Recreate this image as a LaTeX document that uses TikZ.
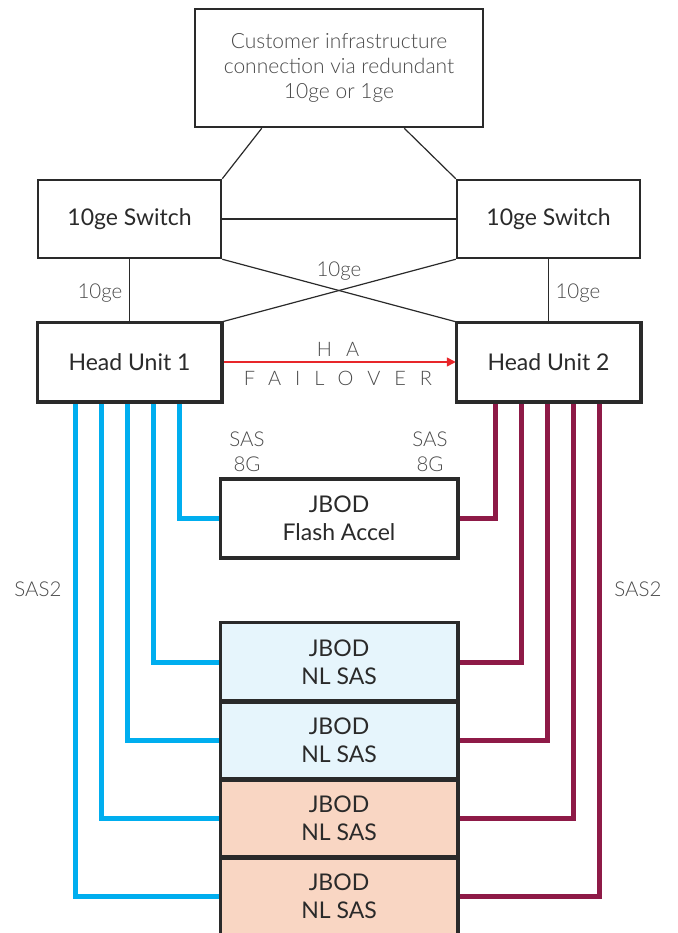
\documentclass[tikz,border=0pt]{standalone}
\usepackage{fontspec}
\setmainfont{Lato}
\newfontfamily\lightfont{Lato Light}
\usetikzlibrary{arrows.meta,calc}
\definecolor{sasblue}{HTML}{00AEEF}
\definecolor{sasred}{HTML}{8E1A47}
\definecolor{harrow}{HTML}{E8262A}
\definecolor{fillblue}{HTML}{E6F5FC}
\definecolor{fillpeach}{HTML}{F9D6C3}
\definecolor{boxline}{HTML}{2A2A2A}
\definecolor{labelgray}{HTML}{4A4A4A}
\begin{document}
\begin{tikzpicture}[x=1pt,y=-1pt,
  box/.style={draw=boxline,line width=2.5pt,rectangle,inner sep=0pt,align=center,fill=white,
    minimum width=183pt,minimum height=78pt,font=\fontsize{23}{28}\selectfont,text=boxline},
  jbox/.style={box,minimum width=236pt,minimum height=78pt},
  thin/.style={draw=boxline,line width=1.2pt},
  lbl/.style={font=\lightfont\fontsize{20.5}{25}\selectfont,text=labelgray,align=center,inner sep=0pt},
  spaced/.style={lbl,font=\lightfont\fontsize{20}{25}\selectfont\addfontfeature{LetterSpace=70}},
  bluecab/.style={draw=sasblue,line width=5pt},
  redcab/.style={draw=sasred,line width=5pt}]
\useasboundingbox (0,0) rectangle (677,933);
% boxes
\node[box,minimum width=288pt,minimum height=118pt,font=\lightfont\fontsize{21}{25}\selectfont,text=labelgray] (cust) at (339,68)
  {Customer infrastructure\\connection via redundant\\10ge or 1ge};
\node[box] (swL) at (129.5,219) {10ge Switch};
\node[box] (swR) at (548.5,219) {10ge Switch};
\node[box] (hu1) at (129.5,362) {Head Unit 1};
\node[box] (hu2) at (548.5,362) {Head Unit 2};
% thin links
\draw[thin] ([xshift=68pt]cust.south west) -- (swL.north east);
\draw[thin] ([xshift=-80pt]cust.south east) -- (swR.north west);
\draw[thin] (swL) -- (swR);
\draw[thin] (swL) -- (hu1);
\draw[thin] (swR) -- (hu2);
\draw[thin] (swL.south east) -- (hu2.north west);
\draw[thin] (swR.south west) -- (hu1.north east);
\node[lbl] (l10a) at (100,293) {10ge};
\node[lbl] (l10b) at (578,293) {10ge};
\node[lbl] (l10c) at (339,271) {10ge};
% HA failover
\draw[draw=harrow,line width=1.5pt,-{Triangle[length=9pt,width=9pt]}] (hu1) -- (hu2);
\node[spaced] (ha) at (338,349) {HA};
\node[spaced] (fo) at (338,378) {FAILOVER};
% cables
\coordinate (b1) at ([xshift=39pt]hu1.south west);
\coordinate (b2) at ([xshift=65pt]hu1.south west);
\coordinate (b3) at ([xshift=91pt]hu1.south west);
\coordinate (b4) at ([xshift=117pt]hu1.south west);
\coordinate (b5) at ([xshift=143pt]hu1.south west);
\coordinate (r1) at ([xshift=40pt]hu2.south west);
\coordinate (r2) at ([xshift=66pt]hu2.south west);
\coordinate (r3) at ([xshift=92pt]hu2.south west);
\coordinate (r4) at ([xshift=118pt]hu2.south west);
\coordinate (r5) at ([xshift=144pt]hu2.south west);
\node[jbox] (flash) at (339,518.5) {JBOD\\Flash Accel};
\node[jbox,fill=fillblue] (j1) at (339,662) {JBOD\\NL SAS};
\node[jbox,fill=fillblue] (j2) at (339,740) {JBOD\\NL SAS};
\node[jbox,fill=fillpeach] (j3) at (339,818) {JBOD\\NL SAS};
\node[jbox,fill=fillpeach] (j4) at (339,896) {JBOD\\NL SAS};
\draw[bluecab] (b5) |- (flash.west);
\draw[bluecab] (b4) |- (j1.west);
\draw[bluecab] (b3) |- (j2.west);
\draw[bluecab] (b2) |- (j3.west);
\draw[bluecab] (b1) |- (j4.west);
\draw[redcab] (r1) |- (flash.east);
\draw[redcab] (r2) |- (j1.east);
\draw[redcab] (r3) |- (j2.east);
\draw[redcab] (r4) |- (j3.east);
\draw[redcab] (r5) |- (j4.east);
% redraw box borders on top of cable ends
\foreach \n in {hu1,hu2,flash,j1,j2,j3,j4}
  \draw[draw=boxline,line width=2.5pt] (\n.south west) rectangle (\n.north east);
% labels
\node[lbl] (sasl) at (247,452) {SAS\\8G};
\node[lbl] (sasr) at (430,452) {SAS\\8G};
\node[lbl] (sas2l) at (38,589) {SAS2};
\node[lbl] (sas2r) at (638,589) {SAS2};
\end{tikzpicture}
\end{document}
